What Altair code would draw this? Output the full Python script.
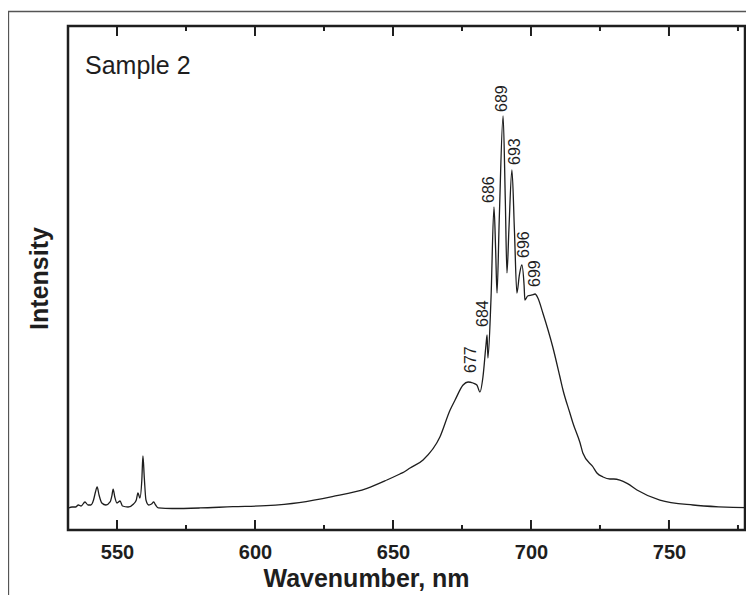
import altair as alt
import pandas as pd

# Spectrum (wavelength in nm, intensity in arbitrary units)
wavelength = [
    532.5, 533.7, 535.0, 536.0, 537.0, 538.4, 539.5, 540.5, 541.5, 542.2,
    542.8, 543.5, 544.5, 546.0, 547.5, 548.2, 548.6, 549.2, 550.0, 551.1,
    552.0, 554.0, 556.0, 557.0, 557.6, 558.3, 559.0, 559.4, 559.9, 560.5,
    561.5, 562.5, 563.3, 564.0, 565.0, 570.0, 580.0, 592.0, 604.0, 616.0,
    628.0, 640.6, 647.8, 652.5, 654.0, 656.2, 660.9, 667.0, 670.7, 672.5,
    675.4, 677.2, 679.0, 680.4, 681.5, 682.6, 683.7, 684.1, 684.4, 685.5,
    686.6, 687.2, 687.7, 688.5, 689.9, 690.7, 691.3, 692.0, 693.1, 694.0,
    694.9, 695.8, 696.7, 697.5, 697.8, 698.8, 700.4, 701.5, 702.5, 704.3,
    707.9, 710.5, 711.6, 714.1, 715.2, 717.8, 718.8, 722.5, 723.9, 726.1,
    728.6, 730.0, 732.2, 735.0, 738.4, 746.7, 758.7, 768.0, 779.3, 780.5,
]
intensity = [
    4.37, 4.56, 4.56, 4.96, 4.76, 5.56, 4.96, 4.96, 5.95, 7.54,
    8.53, 6.94, 5.36, 4.96, 5.56, 6.94, 8.13, 6.55, 5.36, 5.75,
    4.76, 4.56, 5.16, 5.95, 7.34, 6.35, 9.92, 14.68, 10.32, 5.95,
    4.96, 5.16, 5.56, 4.96, 4.37, 4.27, 4.37, 4.62, 4.82, 5.42,
    6.61, 8.27, 9.92, 11.11, 11.51, 12.30, 13.89, 18.45, 23.81, 25.79,
    28.77, 29.37, 29.17, 28.77, 27.38, 30.36, 36.71, 38.69, 34.13, 45.63,
    64.09, 55.56, 47.02, 61.51, 82.14, 65.48, 51.00, 59.52, 71.43, 59.52,
    47.02, 50.60, 52.58, 48.61, 45.63, 46.43, 46.63, 46.83, 46.03, 43.06,
    36.31, 30.36, 27.78, 23.21, 21.23, 17.26, 15.28, 12.50, 11.31, 10.52,
    10.12, 10.12, 9.92, 9.20, 7.94, 5.95, 4.96, 4.60, 4.42, 4.42,
]

peak_labels = ["677", "684", "686", "689", "693", "696", "699"]
label_x = [678.3, 682.6, 684.8, 689.5, 694.2, 697.5, 701.4]
label_y = [31.15, 40.28, 64.88, 82.94, 72.42, 53.97, 48.21]

major_ticks = [550, 600, 650, 700, 750]
minor_ticks = [575, 625, 675, 725, 775]

sample_name = ["Sample 2"]

W, H = 677, 504
FONT = "Liberation Sans"
INK = "#1e1e1e"

xscale = alt.Scale(domain=[532.25, 777.55], nice=False, zero=False)
yscale = alt.Scale(domain=[0, 100], nice=False, zero=False)

xaxis = alt.Axis(
    title="Wavenumber, nm", values=major_ticks, ticks=False, domain=False,
    grid=False, labelFont=FONT, labelFontWeight="bold", labelFontSize=20,
    labelColor=INK, labelPadding=12, titleFont=FONT, titleFontWeight="bold",
    titleFontSize=25, titleColor=INK, titleX=298, titleY=56,
    titleAlign="center", titleBaseline="alphabetic", format="d",
)
yaxis = alt.Axis(
    title="Intensity", labels=False, ticks=False, domain=False, grid=False,
    titleFont=FONT, titleFontWeight="bold", titleFontSize=25,
    titleColor=INK, titlePadding=16,
)

spec_df = pd.DataFrame({"nm": wavelength, "I": intensity})
lab_df = pd.DataFrame({"nm": label_x, "I": label_y, "t": peak_labels})
major_df = pd.DataFrame({"nm": major_ticks})
minor_df = pd.DataFrame({"nm": minor_ticks})

line = alt.Chart(spec_df).mark_line(
    color=INK, strokeWidth=1.3, interpolate="monotone"
).encode(
    x=alt.X("nm:Q", scale=xscale, axis=xaxis),
    y=alt.Y("I:Q", scale=yscale, axis=yaxis),
)

labels = alt.Chart(lab_df).mark_text(
    angle=270, align="left", baseline="middle", fontSize=16, font=FONT, color=INK
).encode(
    x=alt.X("nm:Q", scale=xscale, axis=xaxis),
    y=alt.Y("I:Q", scale=yscale, axis=yaxis),
    text="t:N",
)


def tick_layer(df, y0, y1):
    return alt.Chart(df).mark_rule(color=INK, strokeWidth=2).encode(
        x=alt.X("nm:Q", scale=xscale, axis=xaxis),
        y=alt.value(y0),
        y2=alt.value(y1),
    )


ticks = [
    tick_layer(major_df, H, H - 10),
    tick_layer(minor_df, H, H - 5),
    tick_layer(major_df, 0, 10),
    tick_layer(minor_df, 0, 5),
]

frame = alt.Chart(pd.DataFrame({"k": [0]})).mark_rect(
    filled=False, stroke="#555555", strokeWidth=1.3, clip=False
).encode(
    x=alt.value(-59.5), x2=alt.value(1200), y=alt.value(-14.5), y2=alt.value(1200)
)

sample = alt.Chart(pd.DataFrame({"t": sample_name})).mark_text(
    align="left", baseline="alphabetic", fontSize=25, font=FONT, color=INK
).encode(text="t:N", x=alt.value(17), y=alt.value(48))

chart = alt.layer(line, labels, *ticks, sample, frame).properties(
    width=W,
    height=H,
    padding={"left": 60, "top": 18, "right": 1, "bottom": 65},
    autosize=alt.AutoSizeParams(type="none"),
).configure_view(stroke=INK, strokeWidth=2.5)

chart.save("out.html", embed_options={"renderer": "svg", "actions": False})
